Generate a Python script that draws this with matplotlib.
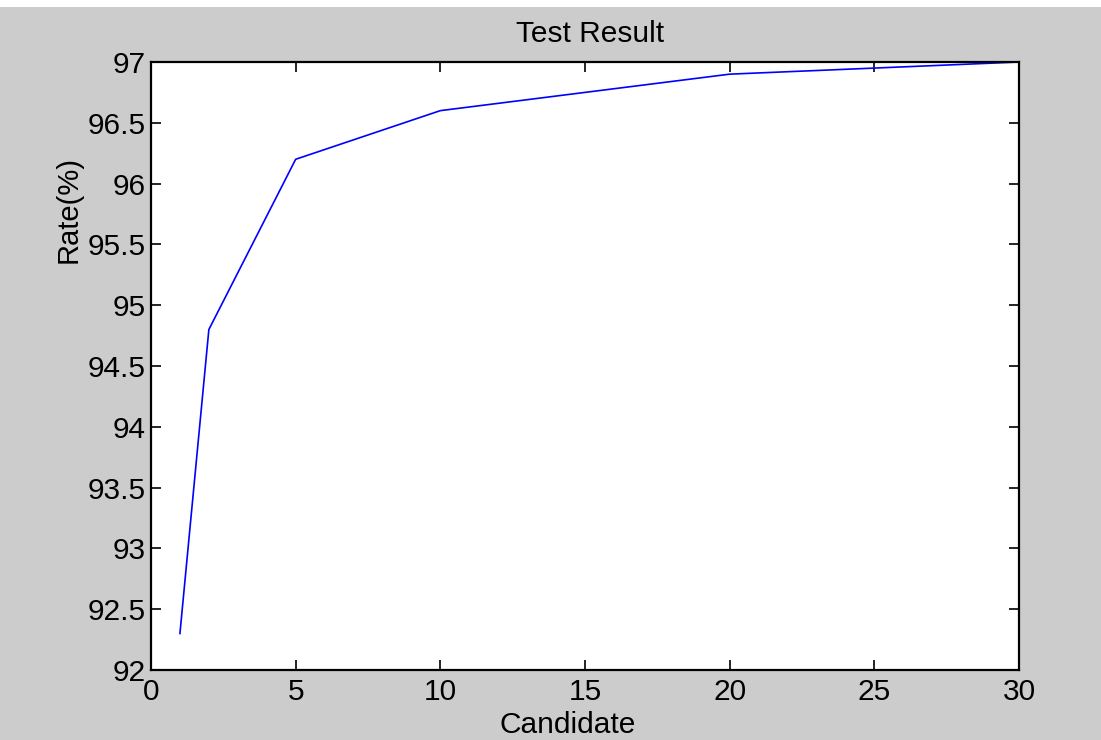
import matplotlib
matplotlib.use("Agg")
import matplotlib.pyplot as plt
from matplotlib.patches import Rectangle

candidates = [1, 2, 5, 10, 20, 30]
rates = [92.3, 94.8, 96.2, 96.6, 96.9, 97.0]
xticks = [0, 5, 10, 15, 20, 25, 30]
yticks = [92, 92.5, 93, 93.5, 94, 94.5, 95, 95.5, 96, 96.5, 97]
yticklabels = ["92", "92.5", "93", "93.5", "94", "94.5", "95", "95.5", "96", "96.5", "97"]

plt.rcParams['font.family'] = ['Liberation Sans', 'DejaVu Sans']

fig = plt.figure(figsize=(11.01, 7.40), dpi=100, facecolor='#cccccc')
fig.patches.append(Rectangle((0, 1 - 7/740), 1, 7/740, transform=fig.transFigure,
                             facecolor='white', edgecolor='none', zorder=0))
ax = fig.add_axes([151/1101, 70/740, (1019-151)/1101, (670-62)/740])
ax.plot(candidates, rates, color='#0000ff', linewidth=1.2)
ax.set_xlim(0, 30)
ax.set_ylim(92, 97)
ax.set_xticks(xticks)
ax.set_xticklabels([str(t) for t in xticks])
ax.set_yticks(yticks)
ax.set_yticklabels(yticklabels)
ax.tick_params(direction='in', length=7, width=1.2, top=True, right=True,
               labelsize=21.5, colors='black', pad=4)
ax.tick_params(axis='x', pad=6)
for s in ax.spines.values():
    s.set_linewidth(1.6)
ax.set_title('Test Result', fontsize=21.5, y=1.0329, pad=0, x=0.506)
ax.set_xlabel('Candidate', fontsize=21.5, va='baseline')
ax.xaxis.set_label_coords(0.480, -0.103)
ax.set_ylabel('Rate(%)', fontsize=21, va='center')
ax.yaxis.set_label_coords(-0.095, 0.757)
fig.savefig('out.png', dpi=100, facecolor=fig.get_facecolor())
